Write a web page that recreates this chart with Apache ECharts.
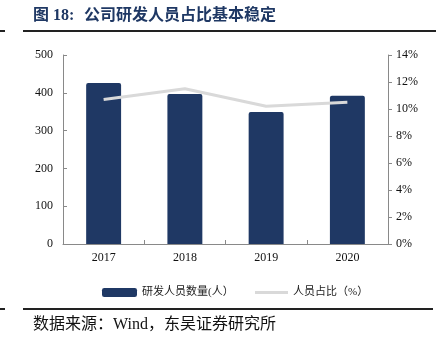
<!DOCTYPE html>
<html>
<head>
<meta charset="utf-8">
<script src="https://cdn.jsdelivr.net/npm/echarts@6/dist/echarts.min.js"></script>
<style>
  html, body { margin: 0; padding: 0; background: #fff; }
  #chart { width: 438px; height: 344px; }
</style>
</head>
<body>
<div id="chart"></div>
<script>
// Years on the category axis
const years = ['2017', '2018', '2019', '2020'];
// R&D headcount (persons)
const staffCount = [426, 397, 349, 392];
// Share of R&D staff in total employees (%)
const staffShare = [10.7, 11.5, 10.2, 10.5];
// Axis settings
const leftMax = 500, leftStep = 100;
const rightMax = 14, rightStep = 2;

const serif = '"Liberation Serif", "Times New Roman", "Noto Sans CJK SC", serif';
const navy = '#1F3864';
const axisGray = '#898989';

const chart = echarts.init(document.getElementById('chart'), null, { renderer: 'canvas' });

chart.setOption({
  animation: false,
  backgroundColor: '#fff',
  graphic: [
    { type: 'text', left: 33, top: 8,
      style: { text: '图 18:', fill: navy,
               font: 'bold 16px "Liberation Serif", "Noto Sans CJK SC", serif' } },
    { type: 'text', left: 84, top: 8,
      style: { text: '公司研发人员占比基本稳定', fill: navy,
               font: 'bold 16px "Liberation Serif", "Noto Sans CJK SC", serif' } },
    { type: 'rect', shape: { x: 0, y: 30, width: 5, height: 2 }, style: { fill: '#222' } },
    { type: 'rect', shape: { x: 23, y: 30, width: 413, height: 2 }, style: { fill: '#222' } },
    { type: 'rect', shape: { x: 0, y: 308, width: 5, height: 2 }, style: { fill: '#222' } },
    { type: 'rect', shape: { x: 23, y: 308, width: 410, height: 2 }, style: { fill: '#222' } },
    { type: 'text', left: 33, top: 317,
      style: { text: '数据来源：Wind，东吴证券研究所', fill: '#111',
               font: '16px "Liberation Serif", "Noto Sans CJK SC", serif' } }
  ],
  grid: { left: 63, right: 50, top: 55, bottom: 100 },
  legend: [
    { data: [{ name: '研发人员数量(人）', icon: 'roundRect' }],
      left: 97, top: 282, itemWidth: 35, itemHeight: 9, itemGap: 3,
      textStyle: { fontSize: 11, color: '#222', fontFamily: serif } },
    { data: [{ name: '人员占比（%）', icon: 'rect' }],
      left: 250, top: 282, itemWidth: 33, itemHeight: 3,
      textStyle: { fontSize: 11, color: '#222', fontFamily: serif, padding: [0, 0, 0, 0] } }
  ],
  xAxis: {
    type: 'category',
    data: years,
    boundaryGap: true,
    axisLine: { lineStyle: { color: axisGray, width: 1 } },
    axisTick: { show: true, inside: true, length: 4, alignWithLabel: false, lineStyle: { color: axisGray } },
    axisLabel: { color: '#111', fontSize: 12, fontFamily: serif, margin: 8 }
  },
  yAxis: [
    {
      type: 'value', min: 0, max: leftMax, interval: leftStep,
      axisLine: { show: true, lineStyle: { color: axisGray } },
      axisTick: { show: true, inside: true, length: 4, lineStyle: { color: axisGray } },
      axisLabel: { color: '#111', fontSize: 12, fontFamily: serif, margin: 10 },
      splitLine: { show: false }
    },
    {
      type: 'value', min: 0, max: rightMax, interval: rightStep,
      position: 'right',
      axisLine: { show: true, lineStyle: { color: axisGray } },
      axisTick: { show: true, inside: false, length: 4, lineStyle: { color: axisGray } },
      axisLabel: { color: '#111', fontSize: 12, fontFamily: serif, margin: 8,
                   formatter: v => v + '%' },
      splitLine: { show: false }
    }
  ],
  series: [
    {
      name: '研发人员数量(人）',
      type: 'bar',
      data: staffCount,
      barWidth: '43%',
      itemStyle: { color: navy, borderRadius: [2, 2, 0, 0] }
    },
    {
      name: '人员占比（%）',
      type: 'line',
      yAxisIndex: 1,
      data: staffShare,
      symbol: 'none',
      lineStyle: { color: '#D9D9D9', width: 3 },
      itemStyle: { color: '#D9D9D9' }
    }
  ]
});
</script>
</body>
</html>
